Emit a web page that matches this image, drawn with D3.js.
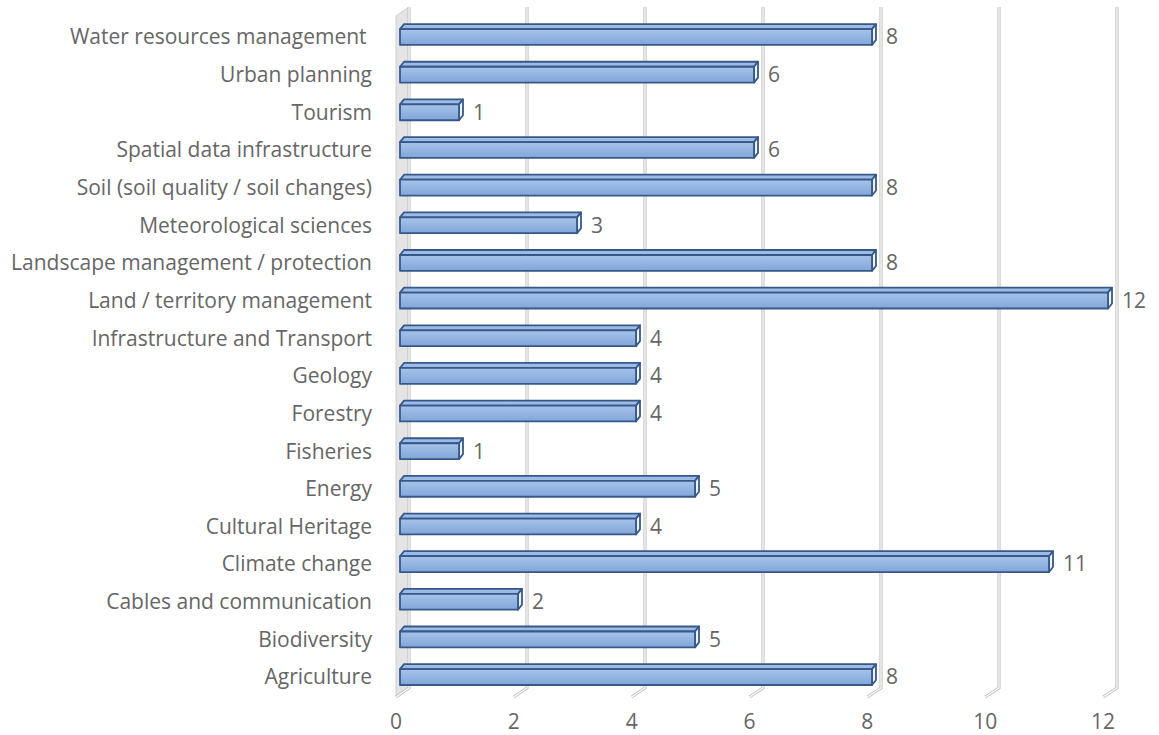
<!DOCTYPE html>
<html><head><meta charset="utf-8">
<script src="https://cdn.jsdelivr.net/npm/d3@7"></script>
<style>
html,body{margin:0;padding:0;background:#fff;}
text{font-family:"Open Sans",Calibri,sans-serif;fill:#666666;white-space:pre;}
</style></head>
<body><svg id="c" width="1159" height="735"></svg>
<script>
const categories = ["Water resources management ","Urban planning","Tourism","Spatial data infrastructure","Soil (soil quality / soil changes)","Meteorological sciences","Landscape management / protection","Land / territory management","Infrastructure and Transport","Geology","Forestry","Fisheries","Energy","Cultural Heritage","Climate change","Cables and communication","Biodiversity","Agriculture"];
const values = [8,6,1,6,8,3,8,12,4,4,4,1,5,4,11,2,5,8];
const ticks = [0,2,4,6,8,10,12];

const svg = d3.select("#c");
const fontSize = 21;

// scales: front plane (tick labels), mid (bars), back (gridlines)
const xFront = d3.scaleLinear().domain([0,12]).range([396,1103]);
const xBar = d3.scaleLinear().domain([0,12]).range([400,1108]);
const xBack = d3.scaleLinear().domain([0,12]).range([409,1117]);
const y = d3.scaleBand().domain(categories).range([15.7,693.4]).paddingInner(0.58).paddingOuter(0.29);

const topY = 7, backBottom = 688, frontBottom = 697;
const dx = 4, dy = 5;

// left wall
svg.append("polygon")
  .attr("points",[[xFront(0),topY+9],[xBack(0),topY],[xBack(0),backBottom],[xFront(0),frontBottom]].map(p=>p.join(",")).join(" "))
  .attr("fill","#e4e4e4").attr("stroke","#d0d0d0").attr("stroke-width",1);

// gridlines (double lines)
const gl = svg.append("g");
ticks.forEach(t=>{
  const d = `M${xBack(t)},${topY}L${xBack(t)},${backBottom}L${xFront(t)},${frontBottom}`;
  gl.append("path").attr("d",d).attr("fill","none").attr("stroke","#c4c4c4").attr("stroke-width",3.2).attr("stroke-linejoin","miter");
  gl.append("path").attr("d",d).attr("fill","none").attr("stroke","#ffffff").attr("stroke-width",1.1);
});

// gradient
const defs = svg.append("defs");
const g1 = defs.append("linearGradient").attr("id","frontGrad").attr("x1",0).attr("y1",0).attr("x2",0).attr("y2",1);
g1.append("stop").attr("offset","0%").attr("stop-color","#a6c3ea");
g1.append("stop").attr("offset","100%").attr("stop-color","#82a6d9");

// bars
const bars = svg.append("g");
categories.forEach((c,i)=>{
  const v = values[i];
  const x0 = xBar(0), x1 = xBar(v);
  const yt = y(c)+2.5, yb = y(c)+y.bandwidth()+2.5;
  const g = bars.append("g").attr("stroke","#36598a").attr("stroke-width",1.8).attr("stroke-linejoin","round");
  // top face
  g.append("polygon").attr("points",[[x0,yt],[x0+dx,yt-dy],[x1+dx,yt-dy],[x1,yt]].map(p=>p.join(",")).join(" "))
    .attr("fill","#9dbbe4");
  // side face
  g.append("polygon").attr("points",[[x1,yt],[x1+dx,yt-dy],[x1+dx,yb-dy],[x1,yb]].map(p=>p.join(",")).join(" "))
    .attr("fill","#eef3fa");
  // front face
  g.append("rect").attr("x",x0).attr("y",yt).attr("width",x1-x0).attr("height",yb-yt)
    .attr("fill","url(#frontGrad)");
  // value label
  svg.append("text").attr("x",x1+14).attr("y",yt+(yb-yt)/2).attr("dy","0.35em")
    .attr("font-size",fontSize).text(v);
  // category label
  svg.append("text").attr("x",372).attr("y",yt+(yb-yt)/2).attr("dy","0.35em")
    .attr("text-anchor","end").attr("font-size",fontSize).text(c);
});

// tick labels
ticks.forEach(t=>{
  svg.append("text").attr("x",xFront(t)).attr("y",722).attr("dy","0.35em")
    .attr("text-anchor","middle").attr("font-size",fontSize).text(t);
});
</script></body></html>
